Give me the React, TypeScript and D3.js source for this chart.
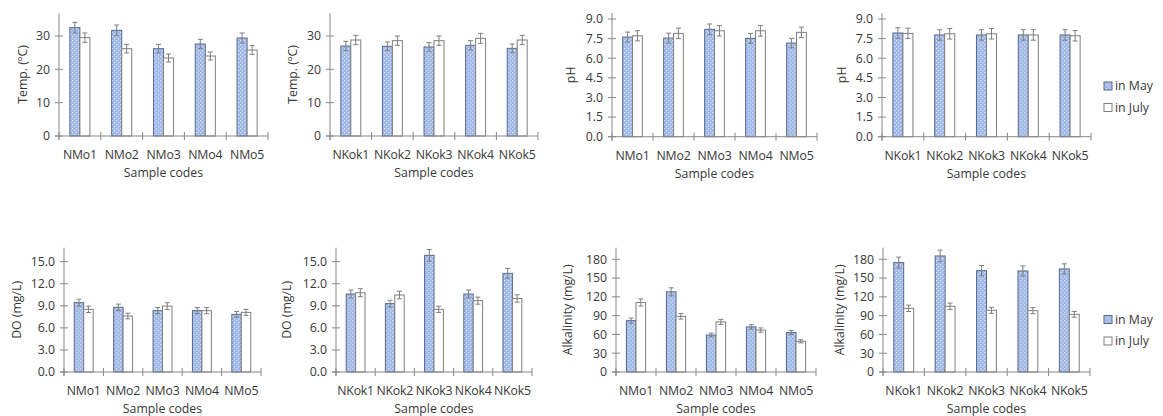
import React from "react";
import * as d3 from "d3";

const nmoCodes = ["NMo1", "NMo2", "NMo3", "NMo4", "NMo5"];
const nkokCodes = ["NKok1", "NKok2", "NKok3", "NKok4", "NKok5"];

// Temperature
const tempNMoMay = [32.5, 31.7, 26.2, 27.6, 29.4];
const tempNMoJuly = [29.5, 26.2, 23.4, 24.0, 25.8];
const tempNMoMayErr = [1.6, 1.6, 1.3, 1.4, 1.5];
const tempNMoJulyErr = [1.4, 1.3, 1.2, 1.2, 1.3];
const tempNKokMay = [27.0, 26.9, 26.7, 27.2, 26.3];
const tempNKokJuly = [28.8, 28.6, 28.6, 29.3, 28.8];
const tempNKokMayErr = [1.4, 1.3, 1.3, 1.4, 1.3];
const tempNKokJulyErr = [1.4, 1.4, 1.4, 1.5, 1.4];

// pH
const phNMoMay = [7.62, 7.54, 8.21, 7.52, 7.16];
const phNMoJuly = [7.72, 7.9, 8.1, 8.1, 7.98];
const phNMoMayErr = [0.38, 0.38, 0.41, 0.38, 0.36];
const phNMoJulyErr = [0.39, 0.4, 0.4, 0.41, 0.4];
const phNKokMay = [7.93, 7.78, 7.78, 7.78, 7.78];
const phNKokJuly = [7.9, 7.87, 7.87, 7.78, 7.72];
const phNKokMayErr = [0.4, 0.4, 0.4, 0.4, 0.4];
const phNKokJulyErr = [0.4, 0.4, 0.4, 0.4, 0.4];

// Dissolved oxygen
const doNMoMay = [9.43, 8.79, 8.34, 8.34, 7.84];
const doNMoJuly = [8.52, 7.61, 8.97, 8.34, 8.11];
const doNMoMayErr = [0.47, 0.44, 0.42, 0.42, 0.39];
const doNMoJulyErr = [0.43, 0.38, 0.45, 0.42, 0.41];
const doNKokMay = [10.6, 9.29, 15.86, 10.6, 13.41];
const doNKokJuly = [10.78, 10.47, 8.52, 9.7, 10.0];
const doNKokMayErr = [0.53, 0.46, 0.79, 0.53, 0.67];
const doNKokJulyErr = [0.54, 0.52, 0.42, 0.48, 0.5];

// Alkalinity
const alkNMoMay = [82, 128, 59, 72, 63];
const alkNMoJuly = [111, 89, 80, 67, 49];
const alkNMoMayErr = [4.1, 6.4, 3.0, 3.6, 3.2];
const alkNMoJulyErr = [5.6, 4.5, 4.0, 3.4, 2.5];
const alkNKokMay = [174.7, 185.3, 161.9, 161.4, 164.6];
const alkNKokJuly = [101.7, 104.9, 98.5, 98, 92.1];
const alkNKokMayErr = [8.7, 9.3, 8.1, 8.1, 8.2];
const alkNKokJulyErr = [5.1, 5.2, 4.9, 4.9, 4.6];

const tempTicks = [0, 10, 20, 30];
const phTicks = [0, 1.5, 3, 4.5, 6, 7.5, 9];
const doTicks = [0, 3, 6, 9, 12, 15];
const alkTicks = [0, 30, 60, 90, 120, 150, 180];

const legendLabels = ["in May", "in July"];

const FONT = "'Open Sans', 'Noto Sans', sans-serif";
const TEXT = "#383838";
const AXIS = "#898989";
const MAY_STROKE = "#56688c";
const JULY_STROKE = "#7f7f7f";
const ERR = "#7f7f7f";

interface PanelProps {
  x0: number;
  x1: number;
  yTop: number;
  yZero: number;
  yMax: number;
  ticks: number[];
  digits: number;
  codes: string[];
  may: number[];
  july: number[];
  mayErr: number[];
  julyErr: number[];
  yLabel: string;
  yLabelX: number;
}

const Panel: React.FC<PanelProps> = (p) => {
  const x = d3.scaleBand<string>().domain(p.codes).range([p.x0, p.x1]);
  const y = d3.scaleLinear().domain([0, p.yMax]).range([p.yZero, p.yTop]);
  const bw = x.bandwidth() * 0.24;
  const fmt = d3.format(`.${p.digits}f`);
  const bounds = [...p.codes.map((c) => x(c)!), p.x1];

  const bar = (vals: number[], errs: number[], which: "may" | "july") =>
    p.codes.map((c, i) => {
      const cx = x(c)! + x.bandwidth() / 2;
      const bx = which === "may" ? cx - bw : cx;
      const top = y(vals[i]);
      const ex = bx + bw / 2;
      const eHi = y(vals[i] + errs[i]);
      const eLo = y(vals[i] - errs[i]);
      return (
        <g key={`${which}-${c}`}>
          <rect
            x={bx}
            y={top}
            width={bw}
            height={p.yZero - top}
            fill={which === "may" ? "url(#dots)" : "#ffffff"}
            stroke={which === "may" ? MAY_STROKE : JULY_STROKE}
            strokeWidth={1}
          />
          <line x1={ex} x2={ex} y1={eHi} y2={eLo} stroke={ERR} strokeWidth={1} />
          <line x1={ex - 2.5} x2={ex + 2.5} y1={eHi} y2={eHi} stroke={ERR} strokeWidth={1} />
          <line x1={ex - 2.5} x2={ex + 2.5} y1={eLo} y2={eLo} stroke={ERR} strokeWidth={1} />
        </g>
      );
    });

  const midY = (p.yTop + p.yZero) / 2;

  return (
    <g fontFamily={FONT} fontSize={12.3} fill={TEXT}>
      {bar(p.may, p.mayErr, "may")}
      {bar(p.july, p.julyErr, "july")}
      {/* y axis */}
      <line x1={p.x0} x2={p.x0} y1={p.yTop} y2={p.yZero + 4} stroke={AXIS} />
      {p.ticks.map((t) => (
        <g key={t}>
          <line x1={p.x0 - 4} x2={p.x0 + 4} y1={y(t)} y2={y(t)} stroke={AXIS} />
          <text x={p.x0 - 9} y={y(t)} dy="0.35em" textAnchor="end">
            {fmt(t)}
          </text>
        </g>
      ))}
      {/* x axis */}
      <line x1={p.x0 - 4} x2={p.x1} y1={p.yZero} y2={p.yZero} stroke={AXIS} />
      {bounds.map((bx, i) => (
        <line key={i} x1={bx} x2={bx} y1={p.yZero - 4} y2={p.yZero + 4} stroke={AXIS} />
      ))}
      {p.codes.map((c) => (
        <text key={c} x={x(c)! + x.bandwidth() / 2} y={p.yZero + 19} dy="0.35em"
          textAnchor="middle" letterSpacing={-0.2}>
          {c}
        </text>
      ))}
      <text x={(p.x0 + p.x1) / 2} y={p.yZero + 36.5} dy="0.35em" textAnchor="middle">
        Sample codes
      </text>
      <text
        transform={`translate(${p.yLabelX},${midY}) rotate(-90)`}
        dy="0.35em"
        textAnchor="middle"
      >
        {p.yLabel}
      </text>
    </g>
  );
};

const Legend: React.FC<{ x: number; y: number }> = ({ x, y }) => (
  <g fontFamily={FONT} fontSize={12.3} fill={TEXT}>
    {legendLabels.map((l, i) => (
      <g key={l} transform={`translate(${x},${y + i * 21.5})`}>
        <rect
          x={0}
          y={-4}
          width={8}
          height={8}
          fill={i === 0 ? "url(#dots)" : "#ffffff"}
          stroke={i === 0 ? MAY_STROKE : JULY_STROKE}
        />
        <text x={11} y={0} dy="0.35em">
          {l}
        </text>
      </g>
    ))}
  </g>
);

export default function App() {
  return (
    <svg
      width={1163}
      height={416}
      style={{ position: "absolute", left: 0, top: 0, background: "#ffffff" }}
    >
      <defs>
        <pattern id="dots" width={4} height={4} patternUnits="userSpaceOnUse">
          <rect width={4} height={4} fill="#9fb8e6" />
          <rect x={0} y={0} width={1.3} height={1.3} fill="#d4e0f5" />
          <rect x={2} y={2} width={1.3} height={1.3} fill="#d4e0f5" />
        </pattern>
      </defs>

      <Panel x0={59} x1={268} yTop={13} yZero={136} yMax={36.9} ticks={tempTicks} digits={0}
        codes={nmoCodes} may={tempNMoMay} july={tempNMoJuly} mayErr={tempNMoMayErr}
        julyErr={tempNMoJulyErr} yLabel="Temp. (ºC)" yLabelX={23} />
      <Panel x0={330} x1={538} yTop={13} yZero={136} yMax={36.9} ticks={tempTicks} digits={0}
        codes={nkokCodes} may={tempNKokMay} july={tempNKokJuly} mayErr={tempNKokMayErr}
        julyErr={tempNKokJulyErr} yLabel="Temp. (ºC)" yLabelX={293} />
      <Panel x0={612} x1={817} yTop={13} yZero={136.7} yMax={9.46} ticks={phTicks} digits={1}
        codes={nmoCodes} may={phNMoMay} july={phNMoJuly} mayErr={phNMoMayErr}
        julyErr={phNMoJulyErr} yLabel="pH" yLabelX={571} />
      <Panel x0={882} x1={1091} yTop={13} yZero={136.7} yMax={9.46} ticks={phTicks} digits={1}
        codes={nkokCodes} may={phNKokMay} july={phNKokJuly} mayErr={phNKokMayErr}
        julyErr={phNKokJulyErr} yLabel="pH" yLabelX={842} />

      <Panel x0={64} x1={261} yTop={247.7} yZero={372} yMax={16.9} ticks={doTicks} digits={1}
        codes={nmoCodes} may={doNMoMay} july={doNMoJuly} mayErr={doNMoMayErr}
        julyErr={doNMoJulyErr} yLabel="DO (mg/L)" yLabelX={17} />
      <Panel x0={336} x1={532} yTop={247.7} yZero={372} yMax={16.9} ticks={doTicks} digits={1}
        codes={nkokCodes} may={doNKokMay} july={doNKokJuly} mayErr={doNKokMayErr}
        julyErr={doNKokJulyErr} yLabel="DO (mg/L)" yLabelX={287} />
      <Panel x0={616} x1={816} yTop={247.7} yZero={372} yMax={198.5} ticks={alkTicks} digits={0}
        codes={nmoCodes} may={alkNMoMay} july={alkNMoJuly} mayErr={alkNMoMayErr}
        julyErr={alkNMoJulyErr} yLabel="Alkalinity (mg/L)" yLabelX={568} />
      <Panel x0={883} x1={1090} yTop={247.7} yZero={372} yMax={198.5} ticks={alkTicks} digits={0}
        codes={nkokCodes} may={alkNKokMay} july={alkNKokJuly} mayErr={alkNKokMayErr}
        julyErr={alkNKokJulyErr} yLabel="Alkalinity (mg/L)" yLabelX={840} />

      <Legend x={1104} y={86} />
      <Legend x={1104} y={319.5} />
    </svg>
  );
}
